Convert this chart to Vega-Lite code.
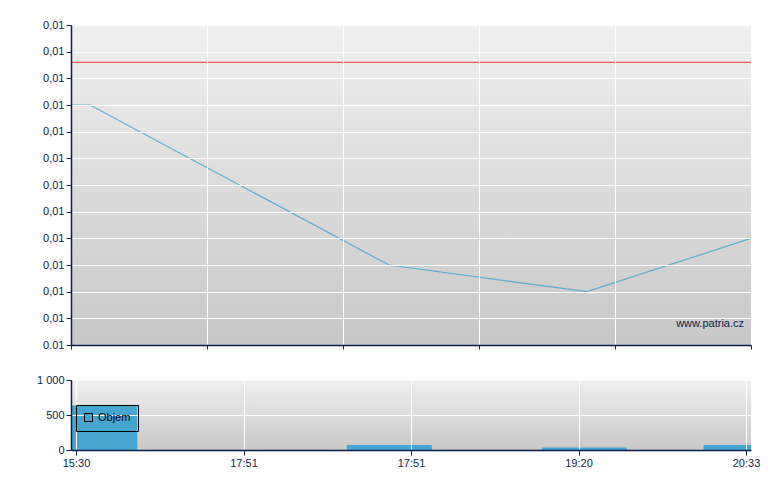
{
  "$schema": "https://vega.github.io/schema/vega-lite/v6.json",
  "padding": {"left": 36, "top": 19, "right": 30, "bottom": 10},
  "background": "white",
  "datasets": {
    "bg": [{"k": "plot"}],
    "price": [
      {"t": 0, "price": 0.0103},
      {"t": 8.5, "price": 0.0103},
      {"t": 141.7, "price": 0.0097},
      {"t": 229.9, "price": 0.0096},
      {"t": 303, "price": 0.0098}
    ],
    "refline": [{"price": 0.01046}],
    "wm": [{"t": 303, "price": 0.00948, "label": "www.patria.cz"}],
    "volume": [
      {"t": 8.5, "objem": 636, "serie": "Objem"},
      {"t": 141.7, "objem": 70, "serie": "Objem"},
      {"t": 229.9, "objem": 35, "serie": "Objem"},
      {"t": 303, "objem": 70, "serie": "Objem"}
    ]
  },
  "spacing": 24,
  "vconcat": [
    {
      "width": 680,
      "height": 320,
      "view": {"stroke": null},
      "layer": [
        {
          "data": {"name": "bg"},
          "mark": {"type": "rect", "color": {"gradient": "linear", "x1": 0, "y1": 0, "x2": 0, "y2": 1,
            "stops": [{"offset": 0, "color": "#f0f0f0"}, {"offset": 1, "color": "#c8c8c8"}]}},
          "encoding": {}
        },
        {
          "data": {"name": "price"},
          "mark": {"type": "line", "color": "#5aaed3", "strokeWidth": 1.2, "clip": true},
          "encoding": {
            "x": {"field": "t", "type": "quantitative",
              "scale": {"domain": [0, 303], "nice": false, "zero": false},
              "axis": {"values": [0, 60.6, 121.2, 181.8, 242.4, 303], "labels": false, "title": null, "grid": true, "tickSize": 4, "zindex": 1}},
            "y": {"field": "price", "type": "quantitative",
              "scale": {"domain": [0.0094, 0.0106], "nice": false, "zero": false},
              "axis": {"values": [0.0094, 0.0095, 0.0096, 0.0097, 0.0098, 0.0099, 0.01, 0.0101, 0.0102, 0.0103, 0.0104, 0.0105, 0.0106],
                "labelOverlap": false, "zindex": 1,
                "labelExpr": "datum.value < 0.00945 ? '0.01' : '0,01'", "title": null, "grid": true}}
          }
        },
        {
          "data": {"name": "refline"},
          "mark": {"type": "rule", "color": "#e8605a", "strokeWidth": 1.2},
          "encoding": {
            "y": {"field": "price", "type": "quantitative",
              "scale": {"domain": [0.0094, 0.0106], "nice": false, "zero": false},
              "axis": {"values": [0.0094, 0.0095, 0.0096, 0.0097, 0.0098, 0.0099, 0.01, 0.0101, 0.0102, 0.0103, 0.0104, 0.0105, 0.0106],
                "labelOverlap": false, "zindex": 1,
                "labelExpr": "datum.value < 0.00945 ? '0.01' : '0,01'", "title": null, "grid": true}}
          }
        },
        {
          "data": {"name": "wm"},
          "mark": {"type": "text", "align": "right", "baseline": "middle", "dx": -7, "font": "Liberation Sans", "fontSize": 11, "color": "#0a1f4e"},
          "encoding": {
            "x": {"field": "t", "type": "quantitative",
              "scale": {"domain": [0, 303], "nice": false, "zero": false},
              "axis": {"values": [0, 60.6, 121.2, 181.8, 242.4, 303], "labels": false, "title": null, "grid": true, "tickSize": 4, "zindex": 1}},
            "y": {"field": "price", "type": "quantitative",
              "scale": {"domain": [0.0094, 0.0106], "nice": false, "zero": false},
              "axis": {"values": [0.0094, 0.0095, 0.0096, 0.0097, 0.0098, 0.0099, 0.01, 0.0101, 0.0102, 0.0103, 0.0104, 0.0105, 0.0106],
                "labelOverlap": false, "zindex": 1,
                "labelExpr": "datum.value < 0.00945 ? '0.01' : '0,01'", "title": null, "grid": true}},
            "text": {"field": "label"}
          }
        }
      ]
    },
    {
      "width": 680,
      "height": 70,
      "view": {"stroke": null},
      "layer": [
        {
          "data": {"name": "bg"},
          "mark": {"type": "rect", "color": {"gradient": "linear", "x1": 0, "y1": 0, "x2": 0, "y2": 1,
            "stops": [{"offset": 0, "color": "#f0f0f0"}, {"offset": 1, "color": "#c8c8c8"}]}},
          "encoding": {}
        },
        {
          "data": {"name": "volume"},
          "mark": {"type": "bar", "size": 85, "clip": true},
          "encoding": {
            "x": {"field": "t", "type": "quantitative",
              "scale": {"domain": [0, 303], "nice": false, "zero": false},
              "axis": {"values": [0, 75.75, 151.5, 227.25, 303], "labelFlush": false, "labelOverlap": false, "zindex": 1,
                "labelExpr": "datum.value < 1 ? '15:30' : datum.value < 160 ? '17:51' : datum.value < 250 ? '19:20' : '20:33'",
                "title": null, "grid": true, "tickSize": 5}},
            "y": {"field": "objem", "type": "quantitative",
              "scale": {"domain": [0, 1000], "nice": false},
              "axis": {"values": [0, 500, 1000], "labelOverlap": false, "zindex": 1, "labelExpr": "datum.value == 1000 ? '1 000' : datum.label", "title": null, "grid": true}},
            "color": {"field": "serie", "type": "nominal",
              "scale": {"range": ["#46a6cf"]},
              "legend": {"orient": "none", "legendX": 5, "legendY": 380, "title": null,
                "strokeColor": "black", "padding": 7,
                "symbolType": "square", "symbolSize": 64,
                "symbolStrokeColor": "black", "symbolStrokeWidth": 1,
                "labelFont": "Liberation Sans", "labelFontSize": 11, "labelColor": "black"}}
          }
        }
      ]
    }
  ],
  "config": {
    "axis": {
      "domainColor": "#0a1f4e", "domainWidth": 1.5,
      "tickColor": "#0a1f4e", "tickWidth": 1, "tickSize": 5,
      "labelColor": "#0a1f4e", "labelFont": "Liberation Sans", "labelFontSize": 11,
      "labelPadding": 2, "labelFlush": false,
      "gridColor": "white", "gridWidth": 1, "gridOpacity": 1
    }
  }
}
